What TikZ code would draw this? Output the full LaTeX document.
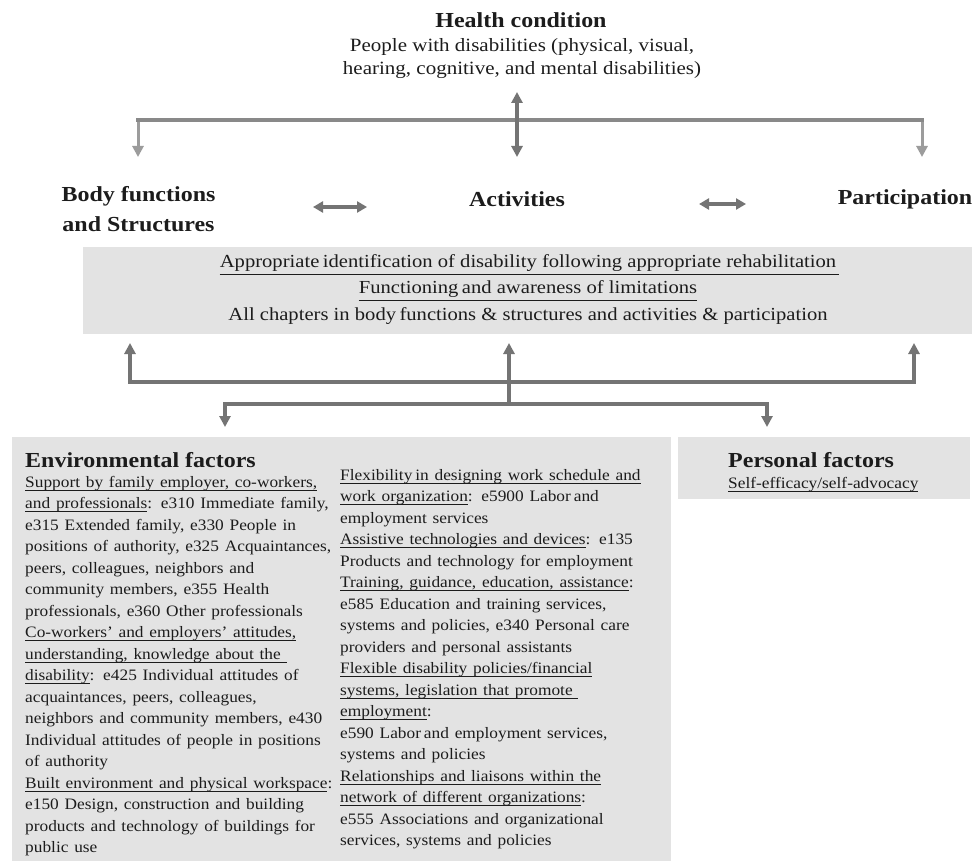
\documentclass[tikz,border=0pt]{standalone}
\usepackage{fontspec}
\setmainfont{Liberation Serif}
\usetikzlibrary{arrows.meta}
\definecolor{boxgray}{HTML}{E3E3E3}
\definecolor{arrgray}{HTML}{747474}
\definecolor{bargray}{HTML}{898989}
\definecolor{stemgray}{HTML}{9C9C9C}
\definecolor{txt}{HTML}{1C1C1C}
\newcommand{\ulx}[1]{\leavevmode\setbox0\hbox{#1}\rlap{\rule[-3.4pt]{\wd0}{0.9pt}}\box0}
\setlength{\parindent}{0pt}
\tikzset{
  hd/.style={font=\fontsize{21.4}{25}\selectfont\bfseries, text=txt, inner sep=0pt, xscale=1.12},
  tp/.style={font=\fontsize{18.75}{22}\selectfont, text=txt, inner sep=0pt, xscale=1.12},
  md/.style={font=\fontsize{18.4}{22}\selectfont, text=txt, inner sep=0pt, xscale=1.12},
  envtxt/.style={font=\fontsize{15.9}{21.5}\selectfont, text=txt, inner sep=0pt, xscale=1.09, text width=300pt, align=left},
  gbox/.style={fill=boxgray, draw=none, inner sep=0pt, anchor=north west},
  tipA/.tip={Triangle[width=11pt,length=11pt]},
  darr/.style={draw=arrgray, line width=3.5pt, tipA-tipA},
  uarr/.style={draw=arrgray, line width=3.5pt, line join=miter},
  stem/.style={draw=stemgray, line width=3pt, -tipA},
  bar/.style={draw=bargray, line width=4pt, line cap=rect},
  hdarr/.style={draw=arrgray, line width=4pt, {Triangle[width=11pt,length=10pt]}-{Triangle[width=11pt,length=10pt]}},
}
\begin{document}
\begin{tikzpicture}[x=1pt,y=-1pt]
\useasboundingbox[fill=white] (0,0) rectangle (972,861);

% Health condition
\node[hd, anchor=base] (hc) at (521,28) {Health condition};
\node[tp, anchor=base] (hc2) at (522,52) {People with disabilities (physical, visual,};
\node[tp, anchor=base] (hc3) at (522,75) {hearing, cognitive, and mental disabilities)};

% top connectors
\coordinate (tb0) at (138,120);
\coordinate (tb1) at (922,120);
\coordinate (tbL) at (138,157);
\coordinate (tbR) at (922,157);
\coordinate (cTop) at (517,92);
\coordinate (cBot) at (517,157);
\draw[stem] (tb0) -- (tbL);
\draw[stem] (tb1) -- (tbR);
\draw[bar] (tb0) -- (tb1);
\draw[darr] (cTop) -- (cBot);

% second row
\node[hd, anchor=base] (bf1) at (138.5,202) {Body functions};
\node[hd, anchor=base] (bf2) at (138.5,232) {and Structures};
\node[hd, anchor=base] (act) at (517,207) {Activities};
\node[hd, anchor=base] (part) at (905,205) {Participation};
\coordinate (h1a) at (313,207);
\coordinate (h1b) at (367,207);
\coordinate (h2a) at (699,204);
\coordinate (h2b) at (746,204);
\draw[hdarr] (h1a) -- (h1b);
\draw[hdarr] (h2a) -- (h2b);

% middle box
\node[gbox, minimum width=889pt, minimum height=87pt] (mid) at (83,247) {};
\node[md, anchor=base] (l1) at (528,268) {Appropriate\,identification of disability following appropriate rehabilitation};
\node[md, anchor=base] (l2) at (528,294) {Functioning\,and awareness of limitations};
\node[md, anchor=base] (l3) at (528,320) {All chapters in body\,functions \& structures and activities \& participation};
\draw[txt, line width=1.4pt] ([yshift=-6.5pt]l1.base west) -- ([yshift=-6.5pt,xshift=3pt]l1.base east);
\draw[txt, line width=1.4pt] ([yshift=-6.5pt]l2.base west) -- ([yshift=-6.5pt]l2.base east);

% lower connectors
\coordinate (uL) at (130,343);
\coordinate (uC) at (509,343);
\coordinate (uR) at (914,343);
\coordinate (b1L) at (130,382);
\coordinate (b1R) at (914,382);
\coordinate (b2L) at (225,404);
\coordinate (b2C) at (509,404);
\coordinate (b2R) at (767,404);
\coordinate (dL) at (225,427);
\coordinate (dR) at (767,427);
\draw[uarr, tipA-tipA] (uL) -- (b1L) -- (b1R) -- (uR);
\draw[uarr, -tipA] (b2C) -- (uC);
\draw[uarr, tipA-tipA] (dL) -- (b2L) -- (b2R) -- (dR);

% environmental factors
\node[gbox, minimum width=659pt, minimum height=424pt] (env) at (12,437) {};
\node[hd, anchor=base west] (envt) at (25,467) {Environmental factors};
\node[envtxt, anchor=north west] (envL) at (25,472) {\strut\ulx{Support by family employer, co-workers,}\\
\ulx{and professionals}: e310 Immediate family,\\
e315 Extended family, e330 People in\\
positions of authority, e325 Acquaintances,\\
peers, colleagues, neighbors and\\
community members, e355 Health\\
professionals, e360 Other professionals\\
\ulx{Co-workers' and employers' attitudes,}\\
\ulx{understanding, knowledge about the\ }\\
\ulx{disability} : e425 Individual attitudes of\\
acquaintances, peers, colleagues,\\
neighbors and community members, e430\\
Individual attitudes of people in positions\\
of authority\\
\ulx{Built environment and physical workspace}:\\
e150 Design, construction and building\\
products and technology of buildings for\\
public use};
\node[envtxt, anchor=north west] (envR) at (340,465) {\strut\ulx{Flexibility\,in designing work schedule and}\\
\ulx{work organization}: e5900 Labor\,and\\
employment services\\
\ulx{Assistive technologies and devices}: e135\\
Products and technology for employment\\
\ulx{Training, guidance, education, assistance} :\\
e585 Education and training services,\\
systems and policies, e340 Personal care\\
providers and personal assistants\\
\ulx{Flexible disability policies/financial}\\
\ulx{systems, legislation that promote\ }\\
\ulx{employment} :\\
e590 Labor\,and employment services,\\
systems and policies\\
\ulx{Relationships and liaisons within the}\\
\ulx{network of different organizations}:\\
e555 Associations and organizational\\
services, systems and policies};

% personal factors
\node[gbox, minimum width=292pt, minimum height=62pt] (pers) at (678,437) {};
\node[hd, anchor=base west] (perst) at (728,467) {Personal factors};
\node[envtxt, text width=200pt, anchor=base west] (pers1) at (728,488) {\ulx{Self-efficacy/self-advocacy}};
\end{tikzpicture}
\end{document}
